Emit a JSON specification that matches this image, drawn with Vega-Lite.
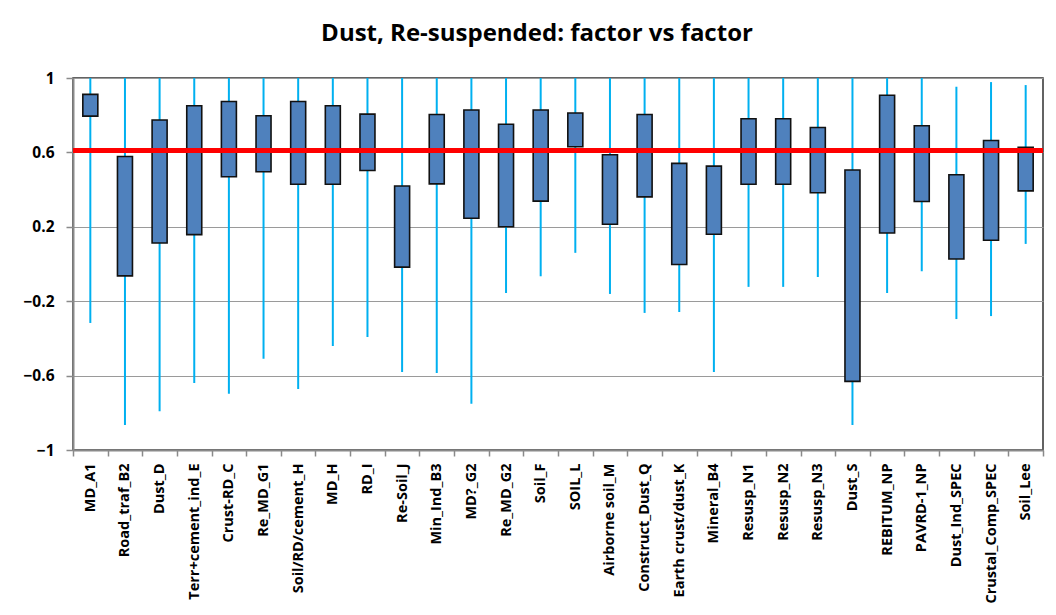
{
  "$schema": "https://vega.github.io/schema/vega-lite/v6.json",
  "autosize": {"type": "none"},
  "padding": {"left": 73, "top": 78, "right": 13, "bottom": 165},
  "width": 970,
  "height": 372,
  "background": "white",
  "title": {
    "text": "Dust, Re-suspended: factor vs factor",
    "font": "Open Sans",
    "fontSize": 24,
    "fontWeight": "bold",
    "color": "#000000",
    "anchor": "middle",
    "dx": -21,
    "offset": 25
  },
  "config": {
    "view": {"stroke": "#303030", "strokeWidth": 1.5},
    "axis": {
      "labelFont": "Open Sans",
      "labelFontWeight": "bold",
      "labelColor": "#000000",
      "domainColor": "#8a8a8a",
      "domainWidth": 2,
      "tickColor": "#8a8a8a",
      "tickWidth": 1.5,
      "title": null
    }
  },
  "data": {
    "values": [
      {"cat": "MD_A1", "min": -0.317, "max": 1.0, "low": 0.795, "high": 0.912},
      {"cat": "Road_traf_B2", "min": -0.866, "max": 1.0, "low": -0.064, "high": 0.578},
      {"cat": "Dust_D", "min": -0.791, "max": 1.0, "low": 0.113, "high": 0.774},
      {"cat": "Terr+cement_ind_E", "min": -0.64, "max": 1.0, "low": 0.158, "high": 0.851},
      {"cat": "Crust-RD_C", "min": -0.698, "max": 1.0, "low": 0.469, "high": 0.874},
      {"cat": "Re_MD_G1", "min": -0.509, "max": 1.0, "low": 0.496, "high": 0.797},
      {"cat": "Soil/RD/cement_H", "min": -0.672, "max": 1.0, "low": 0.429, "high": 0.874},
      {"cat": "MD_H", "min": -0.441, "max": 1.0, "low": 0.429, "high": 0.851},
      {"cat": "RD_I", "min": -0.393, "max": 1.0, "low": 0.503, "high": 0.806},
      {"cat": "Re-Soil_J", "min": -0.581, "max": 1.0, "low": -0.017, "high": 0.419},
      {"cat": "Min_Ind_B3", "min": -0.586, "max": 1.0, "low": 0.431, "high": 0.804},
      {"cat": "MD?_G2", "min": -0.751, "max": 1.0, "low": 0.246, "high": 0.828},
      {"cat": "Re_MD_G2", "min": -0.156, "max": 1.0, "low": 0.2, "high": 0.751},
      {"cat": "Soil_F", "min": -0.066, "max": 1.0, "low": 0.338, "high": 0.828},
      {"cat": "SOIL_L", "min": 0.06, "max": 1.0, "low": 0.63, "high": 0.812},
      {"cat": "Airborne  soil_M", "min": -0.161, "max": 1.0, "low": 0.214, "high": 0.587},
      {"cat": "Construct_Dust_Q", "min": -0.263, "max": 1.0, "low": 0.361, "high": 0.804},
      {"cat": "Earth crust/dust_K", "min": -0.258, "max": 1.0, "low": -0.003, "high": 0.541},
      {"cat": "Mineral_B4", "min": -0.581, "max": 1.0, "low": 0.16, "high": 0.526},
      {"cat": "Resusp_N1", "min": -0.123, "max": 1.0, "low": 0.429, "high": 0.781},
      {"cat": "Resusp_N2", "min": -0.123, "max": 1.0, "low": 0.429, "high": 0.781},
      {"cat": "Resusp_N3", "min": -0.07, "max": 1.0, "low": 0.383, "high": 0.734},
      {"cat": "Dust_S", "min": -0.866, "max": 1.0, "low": -0.631, "high": 0.505},
      {"cat": "REBITUM_NP", "min": -0.156, "max": 1.0, "low": 0.167, "high": 0.907},
      {"cat": "PAVRD-1_NP", "min": -0.039, "max": 1.0, "low": 0.336, "high": 0.743},
      {"cat": "Dust_Ind_SPEC", "min": -0.296, "max": 0.953, "low": 0.027, "high": 0.48},
      {"cat": "Crustal_Comp_SPEC", "min": -0.28, "max": 0.978, "low": 0.128, "high": 0.664},
      {"cat": "Soil_Lee", "min": 0.108, "max": 0.962, "low": 0.393, "high": 0.627}
    ]
  },
  "layer": [
    {
      "mark": {"type": "rule", "color": "#00B0F0", "strokeWidth": 2},
      "encoding": {
        "x": {
          "field": "cat",
          "type": "nominal",
          "sort": null,
          "scale": {"paddingInner": 0, "paddingOuter": 0},
          "axis": {
            "labelAngle": -90,
            "labelFontSize": 14.5,
            "tickBand": "extent",
            "tickSize": 6,
            "labelPadding": 7,
            "grid": false
          }
        },
        "y": {
          "field": "min",
          "type": "quantitative",
          "scale": {"domain": [-1, 1], "nice": false, "zero": false},
          "axis": {
            "values": [-1, -0.6, -0.2, 0.2, 0.6, 1],
            "format": "~g",
            "labelFontSize": 15.5,
            "tickSize": 7,
            "labelPadding": 12,
            "grid": true,
            "gridColor": "#9a9a9a",
            "gridWidth": 1.2
          }
        },
        "y2": {"field": "max"}
      }
    },
    {
      "mark": {"type": "bar", "size": 15, "color": "#4F81BD", "stroke": "#111111", "strokeWidth": 1.6},
      "encoding": {
        "x": {"field": "cat", "type": "nominal", "sort": null},
        "y": {"field": "low", "type": "quantitative"},
        "y2": {"field": "high"}
      }
    },
    {
      "mark": {"type": "rule", "color": "#FF0000", "strokeWidth": 4.5},
      "encoding": {"y": {"datum": 0.61, "type": "quantitative"}}
    }
  ]
}
